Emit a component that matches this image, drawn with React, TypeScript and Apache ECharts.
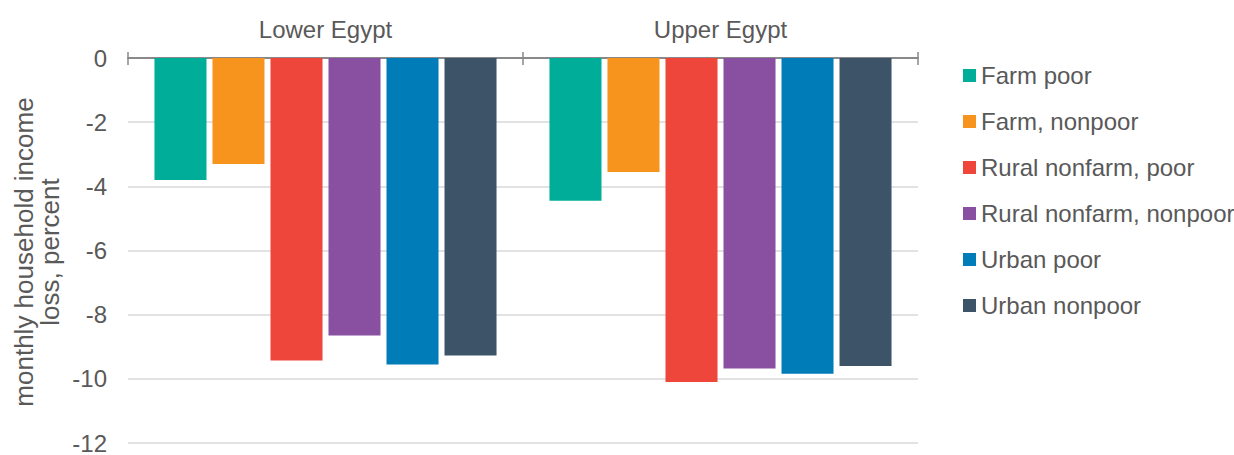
import React, { useEffect, useRef } from "react";
import * as echarts from "echarts";

const regions = ["Lower Egypt", "Upper Egypt"];
const seriesNames = [
  "Farm poor",
  "Farm, nonpoor",
  "Rural nonfarm, poor",
  "Rural nonfarm, nonpoor",
  "Urban poor",
  "Urban nonpoor",
];
const farmPoor = [-3.8, -4.45];
const farmNonpoor = [-3.3, -3.55];
const ruralNonfarmPoor = [-9.43, -10.1];
const ruralNonfarmNonpoor = [-8.65, -9.68];
const urbanPoor = [-9.55, -9.84];
const urbanNonpoor = [-9.27, -9.6];
const seriesValues = [farmPoor, farmNonpoor, ruralNonfarmPoor, ruralNonfarmNonpoor, urbanPoor, urbanNonpoor];
const colors = ["#00ad99", "#f7941e", "#ef463c", "#8950a1", "#007db8", "#3d5368"];
const yTicks = { min: -12, max: 0, interval: 2 };
const yTitle = "monthly household income\nloss, percent";

const FONT = "'Liberation Sans', Arial, sans-serif";
const TEXT = "#595959";

export default function App() {
  const ref = useRef<HTMLDivElement>(null);

  useEffect(() => {
    if (!ref.current) return;
    const chart = echarts.init(ref.current, null, { renderer: "svg" });
    chart.setOption({
      animation: false,
      color: colors,
      textStyle: { fontFamily: FONT },
      grid: { left: 128, right: 316, top: 58, bottom: 7 },
      legend: {
        orient: "vertical",
        left: 963,
        top: 63.5,
        padding: 0,
        icon: "rect",
        itemWidth: 13,
        itemHeight: 13,
        itemGap: 22,
        data: seriesNames,
        textStyle: { fontSize: 24, lineHeight: 24, color: TEXT, fontFamily: FONT },
      },
      xAxis: [
        {
          type: "category",
          data: regions,
          position: "top",
          axisLine: { show: true, lineStyle: { color: "#898989", width: 2 } },
          axisTick: { show: true, length: 6, lineStyle: { color: "#898989", width: 1.5 } },
          axisLabel: { fontSize: 24, color: TEXT, margin: 17, fontFamily: FONT },
        },
        {
          type: "category",
          data: regions,
          position: "top",
          axisLine: { show: false },
          axisTick: { show: true, inside: true, length: 7, lineStyle: { color: "#898989", width: 1.5 } },
          axisLabel: { show: false },
        },
      ],
      yAxis: {
        type: "value",
        min: yTicks.min,
        max: yTicks.max,
        interval: yTicks.interval,
        axisLine: { show: false },
        axisTick: { show: false },
        axisLabel: { fontSize: 24, color: TEXT, margin: 21, fontFamily: FONT },
        splitLine: { lineStyle: { color: "#d9d9d9", width: 1.5 } },
      },
      graphic: [
        {
          type: "text",
          x: 37,
          y: 252,
          rotation: Math.PI / 2,
          style: {
            text: yTitle,
            fontSize: 26,
            lineHeight: 26,
            fill: TEXT,
            fontFamily: FONT,
            textAlign: "center",
            textVerticalAlign: "middle",
          },
        },
      ],
      series: seriesNames.map((name, i) => ({
        name,
        type: "bar",
        xAxisIndex: 0,
        data: seriesValues[i],
        barGap: "11.5%",
        barCategoryGap: "13.4%",
        itemStyle: { color: colors[i] },
      })),
    });
    return () => chart.dispose();
  }, []);

  return (
    <div
      ref={ref}
      style={{ position: "absolute", left: 0, top: 0, width: 1234, height: 455, background: "#fff" }}
    />
  );
}
